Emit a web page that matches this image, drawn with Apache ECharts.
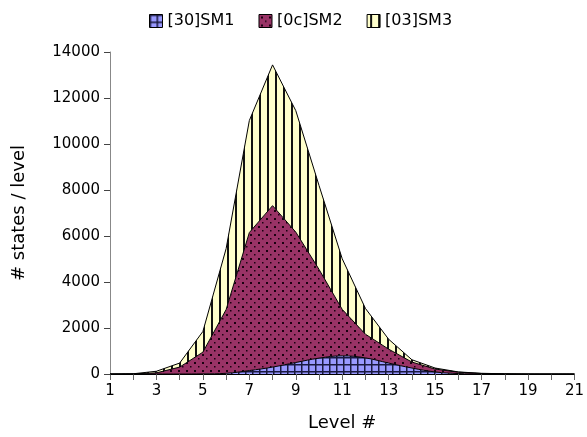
<!DOCTYPE html>
<html>
<head>
<meta charset="utf-8">
<title>States per level</title>
<script src="https://cdn.jsdelivr.net/npm/echarts@6/dist/echarts.min.js"></script>
<style>
  html, body { margin: 0; padding: 0; background: #fff; }
  #chart { width: 587px; height: 437px; }
</style>
</head>
<body>
<div id="chart"></div>
<script>
// level numbers on the x axis
const levels = ['1','2','3','4','5','6','7','8','9','10','11','12','13','14','15','16','17','18','19','20','21'];
// states per level (stacked)
const sm1 = [0, 0, 0, 0, 5, 30, 150, 300, 500, 690, 790, 700, 475, 260, 90, 20, 0, 0, 0, 0, 0];
const sm2 = [0, 5, 50, 300, 945, 2770, 6000, 7020, 5670, 3860, 2020, 1030, 605, 260, 125, 60, 20, 5, 0, 0, 0];
const sm3 = [0, 5, 70, 175, 900, 2650, 4870, 6120, 5280, 3650, 2200, 1120, 430, 100, 45, 10, 10, 5, 0, 0, 0];
const seriesNames = ['[30]SM1', '[0c]SM2', '[03]SM3'];

// fill patterns (small canvas tiles)
function makeTile(size, bg, draw) {
  const c = document.createElement('canvas');
  c.width = size; c.height = size;
  const ctx = c.getContext('2d');
  ctx.fillStyle = bg;
  ctx.fillRect(0, 0, size, size);
  draw(ctx);
  return { image: c, repeat: 'repeat' };
}
// blue with dark grid
const gridPattern = makeTile(7, '#9999ff', ctx => {
  ctx.fillStyle = '#1a1a40';
  ctx.fillRect(0, 0, 7, 1.5);
  ctx.fillRect(0, 0, 1.5, 7);
});
// plum with dots
const dotPattern = makeTile(8, '#993366', ctx => {
  ctx.fillStyle = '#1a0010';
  ctx.fillRect(2, 2, 2, 2);
  ctx.fillRect(6, 6, 1.5, 1.5);
});
// light yellow with vertical stripes
const stripePattern = makeTile(8, '#ffffcc', ctx => {
  ctx.fillStyle = '#111';
  ctx.fillRect(3, 0, 2, 8);
});
const patterns = [gridPattern, dotPattern, stripePattern];

const chart = echarts.init(document.getElementById('chart'));

const makeSeries = (name, data, i) => ({
  name: name,
  type: 'line',
  stack: 'total',
  data: data,
  symbol: 'none',
  smooth: i === 0 ? 0.4 : false,
  lineStyle: { color: '#000', width: 1 },
  itemStyle: { color: patterns[i] },
  areaStyle: { color: patterns[i], opacity: 1 },
  emphasis: { disabled: true }
});

chart.setOption({
  animation: false,
  textStyle: { fontFamily: 'DejaVu Sans' },
  legend: {
    top: 8,
    left: 144,
    icon: 'rect',
    itemWidth: 13,
    itemHeight: 13,
    itemGap: 24,
    textStyle: { fontSize: 16, color: '#000', fontFamily: 'DejaVu Sans' },
    data: seriesNames.map((n, i) => ({
      name: n,
      itemStyle: { color: patterns[i], borderColor: '#000', borderWidth: 1 }
    }))
  },
  grid: { left: 110, right: 11, top: 52, bottom: 61 },
  xAxis: {
    type: 'category',
    data: levels,
    boundaryGap: false,
    name: 'Level #',
    nameLocation: 'middle',
    nameGap: 40,
    nameTextStyle: { fontSize: 18, color: '#000' },
    axisLine: { lineStyle: { color: '#000', width: 1 } },
    axisTick: { interval: 0, length: 6, lineStyle: { color: '#666' } },
    axisLabel: { interval: 1, margin: 10, fontSize: 15, color: '#000' }
  },
  yAxis: {
    type: 'value',
    min: 0,
    max: 14000,
    interval: 2000,
    name: '# states / level',
    nameLocation: 'middle',
    nameGap: 82,
    nameTextStyle: { fontSize: 18, color: '#000' },
    axisLine: { show: true, lineStyle: { color: '#888' } },
    axisTick: { show: true, length: 6, lineStyle: { color: '#444' } },
    axisLabel: { margin: 10, fontSize: 15, color: '#000', formatter: v => String(v) },
    splitLine: { show: false }
  },
  series: [
    makeSeries(seriesNames[0], sm1, 0),
    makeSeries(seriesNames[1], sm2, 1),
    makeSeries(seriesNames[2], sm3, 2)
  ]
});
</script>
</body>
</html>
